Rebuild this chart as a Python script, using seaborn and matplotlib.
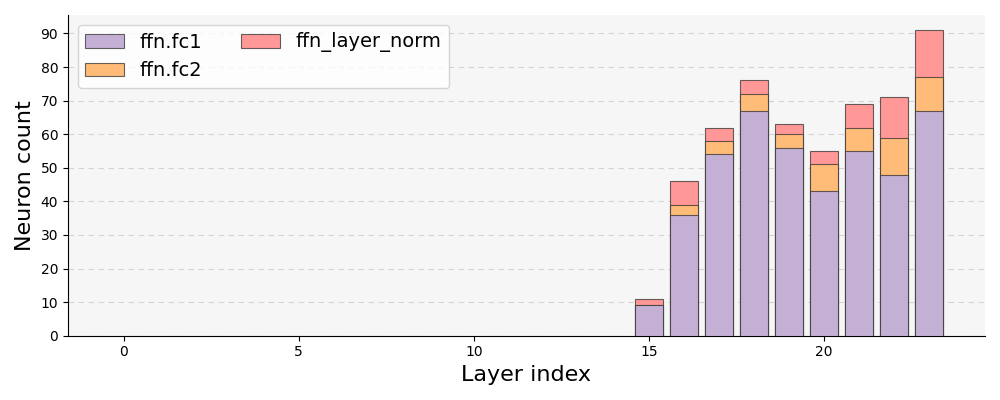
import numpy as np
import pandas as pd
import matplotlib
matplotlib.use("Agg")
import matplotlib.pyplot as plt
import seaborn as sns
from matplotlib.patches import Patch
from matplotlib.ticker import MultipleLocator

layers = list(range(24))
fc1 = [0]*15 + [9, 36, 54, 67, 56, 43, 55, 48, 67]
fc2 = [0]*15 + [0, 3, 4, 5, 4, 8, 7, 11, 10]
ln = [0]*15 + [2, 7, 4, 4, 3, 4, 7, 12, 14]
names = ["ffn.fc1", "ffn.fc2", "ffn_layer_norm"]
colors = ["#c5b0d5", "#ffbb78", "#ff9896"]

sns.set_style("ticks", {"text.color": "black", "axes.labelcolor": "black",
                        "xtick.color": "black", "ytick.color": "black",
                        "axes.edgecolor": "black"})
fig, ax = plt.subplots(figsize=(10, 4), dpi=100)
ax.set_facecolor("#f6f6f6")

c1 = np.array(fc1, dtype=float)
c2 = c1 + np.array(fc2)
c3 = c2 + np.array(ln)
edge = (0.2, 0.2, 0.2, 0.75)
df = pd.DataFrame({"layer": layers, "c1": c1, "c2": c2, "c3": c3})
df = df[df["c3"] > 0]
for col, color in zip(["c3", "c2", "c1"], colors[::-1]):
    sns.barplot(data=df, x="layer", y=col, native_scale=True, color=color,
                saturation=1, edgecolor=edge, linewidth=0.8, width=0.8, ax=ax, zorder=3)

ax.yaxis.grid(True, linestyle=(0, (5, 4)), color="#d3d3d3", linewidth=0.8, zorder=0)
ax.set_axisbelow(True)
ax.xaxis.set_major_locator(MultipleLocator(5))
ax.yaxis.set_major_locator(MultipleLocator(10))
ax.set_xlim(-1.59, 24.59)
ax.set_ylim(0, 95.5)
ax.set_xlabel("Layer index", fontsize=16)
ax.set_ylabel("Neuron count", fontsize=16)
ax.tick_params(labelsize=10)
sns.despine(ax=ax)

handles = [Patch(facecolor=c, edgecolor=edge, linewidth=0.8, label=n) for c, n in zip(colors, names)]
ax.legend(handles=handles, loc="upper left", ncol=2, fontsize=14, frameon=True)

plt.tight_layout()
fig.savefig("out.png")
